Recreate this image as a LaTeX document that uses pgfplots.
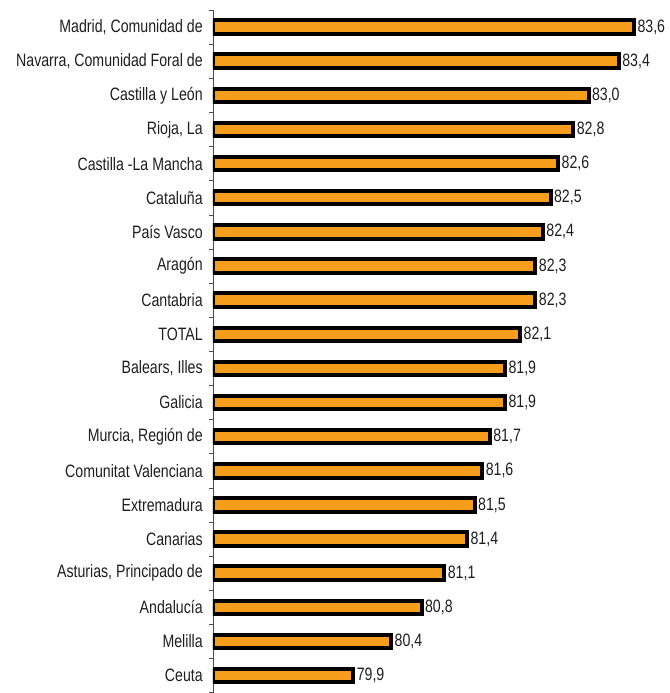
\documentclass[border=0pt]{standalone}
\usepackage{fontspec}
\setmainfont[FakeStretch=0.79]{Liberation Sans}
\usepackage{pgfplots}
\pgfplotsset{compat=1.18}
\definecolor{barorange}{RGB}{246,158,28}
\definecolor{txtgray}{RGB}{30,30,30}
\newcommand{\chartfont}{\fontsize{18}{20}\selectfont}

\begin{document}
\begin{tikzpicture}
\begin{axis}[
    xbar,
    scale only axis,
    width=457bp,
    height=683bp,
    xmin=78.05, xmax=84.07,
    ymin=-0.5, ymax=19.5,
    axis x line=none,
    axis y line=left,
    axis line style={-, draw=black!70, line width=0.6pt},
    ytick={0,...,19},
    yticklabels={Ceuta, Melilla, Andalucía, {Asturias, Principado de}, Canarias,
        Extremadura, Comunitat Valenciana, {Murcia, Región de}, Galicia, {Balears, Illes},
        TOTAL, Cantabria, Aragón, País Vasco, Cataluña, Castilla -La Mancha,
        {Rioja, La}, Castilla y León, {Navarra, Comunidad Foral de}, {Madrid, Comunidad de}},
    minor ytick={-0.5,0.5,...,19.5},
    tick align=outside,
    major tick length=0pt,
    minor tick length=4bp,
    minor tick style={draw=black!70, line width=0.6pt},
    yticklabel style={anchor=east, inner sep=0pt, xshift=-10bp, text=txtgray, font=\chartfont},
    bar width=13.5bp,
    nodes near coords,
    nodes near coords style={anchor=west, inner sep=1.5bp, text=txtgray, font=\chartfont},
    /pgf/number format/.cd, use comma, fixed, fixed zerofill, precision=1, assume math mode=true,
]
\addplot[draw=black, fill=barorange, line width=4bp] coordinates {
    (79.9,0) (80.4,1) (80.8,2) (81.1,3) (81.4,4)
    (81.5,5) (81.6,6) (81.7,7) (81.9,8) (81.9,9)
    (82.1,10) (82.3,11) (82.3,12) (82.4,13) (82.5,14)
    (82.6,15) (82.8,16) (83.0,17) (83.4,18) (83.6,19)
};
\coordinate (tl) at (rel axis cs:0,1);
\end{axis}
\path (tl) ++(-213bp,10bp) rectangle ++(670bp,-693bp);
\end{tikzpicture}
\end{document}
